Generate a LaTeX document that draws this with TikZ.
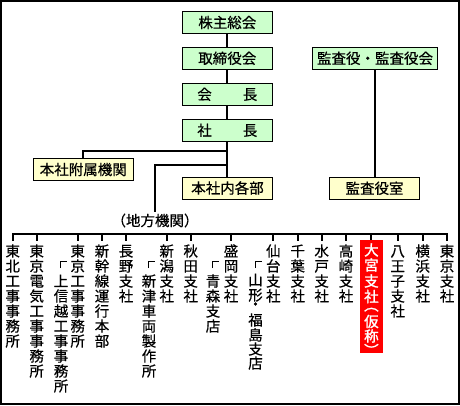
\documentclass[tikz,border=0pt]{standalone}
\usepackage{fontspec}
\newfontfamily\jp{Noto Sans CJK JP}[FakeBold=0.5]
\newfontfamily\jpb{Noto Sans CJK JP}[FakeBold=1.4]
\definecolor{lgreen}{RGB}{204,255,204}
\definecolor{lyellow}{RGB}{255,255,204}
\definecolor{hired}{RGB}{255,0,0}
\newcommand\vtext[5]{%
  \foreach \c [count=\i] in {#5} {\node[ch] (#1\i) at (#2,{#3+(\i-1)*#4}) {\c};}}
\begin{document}
\begin{tikzpicture}[x=1pt,y=-1pt,
  gbox/.style={draw=black, line width=1pt, fill=lgreen, minimum width=90pt, minimum height=22pt, inner sep=0pt, font=\jp\fontsize{14.5}{15}\selectfont},
  ybox/.style={gbox, fill=lyellow},
  lbl/.style={inner sep=0pt, font=\jp\fontsize{14.5}{15}\selectfont},
  ch/.style={inner sep=0pt, text height=11pt, text depth=0pt, font=\jp\fontsize{14.5}{15}\selectfont},
  wch/.style={ch, text=white, font=\jpb\fontsize{14.5}{15}\selectfont},
  par/.style={inner sep=0pt, anchor=base, text height=3pt, text depth=0pt, text=white, font=\jpb\fontsize{14.5}{15}\selectfont},
  conn/.style={draw=black, line width=2pt},
  brk/.style={draw=black, line width=1.5pt}]
\useasboundingbox (0,0) rectangle (460,405);
\draw[line width=2pt] (1,1) rectangle (459,404);

% boxes
\node[gbox] (kabu) at (227.3,22.5) {株主総会};
\node[gbox] (tori) at (227.3,58.3) {取締役会};
\node[gbox] (kaicho) at (227.3,94.3) {\makebox[60pt][s]{会\hfill 長}};
\node[gbox] (shacho) at (227.3,130.3) {\makebox[60pt][s]{社\hfill 長}};
\node[gbox, minimum width=125.4pt] (kansa) at (375,58.3) {監査役・監査役会};
\node[ybox, minimum width=100pt, minimum height=22.4pt] (fuzoku) at (83.3,169.5) {本社附属機関};
\node[ybox] (naibu) at (227.5,188) {本社内各部};
\node[ybox] (kansashitsu) at (374.5,188.3) {監査役室};
\node[lbl] (chiho) at (155,220.5) {（地方機関）};

% trunk connectors
\draw[conn] (kabu) -- (tori);
\draw[conn] (tori) -- (kaicho);
\draw[conn] (kaicho) -- (shacho);
\draw[conn] (shacho.south) -- (shacho.south |- naibu.north);
\coordinate (j1) at (227.3,151);
\coordinate (j2) at (227.3,165);
\coordinate (chtop) at (155,211.5);
\draw[conn] (j1) -| (fuzoku.north);
\draw[conn] (j2) -| (chtop);
\draw[conn] (kansa.south) -- (kansa.south |- kansashitsu.north);

% red box
\node[fill=hired, minimum width=22.7pt, minimum height=112.7pt, inner sep=0pt] (omiya) at (371.4,296.3) {};

% bus and ticks
\foreach \k/\x in {1/12.7, 2/36.7, 4/77.7, 5/102, 6/126, 8/166.7, 9/190.7, 11/231, 13/273.3, 14/297.7, 15/321.7, 16/346, 18/397.7, 19/422.7, 20/447}{
  \coordinate (t\k) at (\x,234.3);
  \coordinate (e\k) at (\x,241);
}
\coordinate (t17) at (371.4,234.3);
\draw[conn, line join=miter] (e1) -- (t1) -- (t20) -- (e20);
\foreach \k in {2,4,5,6,8,9,11,13,14,15,16,18,19}{\draw[conn] (t\k) -- (e\k);}
\draw[conn] (t17) -- (omiya.north);

% brackets for sub offices
\foreach \x in {61,149,213,256}{
  \draw[brk] (\x-0.5,268) -- (\x-0.5,261.5) -- (\x+6,261.5);
}

% columns
\vtext{a}{12.7}{251}{15}{東,北,工,事,事,務,所}
\vtext{b}{36.7}{251}{15}{東,京,電,気,工,事,事,務,所}
\vtext{c}{61}{281}{15}{上,信,越,工,事,事,務,所}
\vtext{d}{77.7}{251}{15}{東,京,工,事,事,務,所}
\vtext{e}{102}{251}{15}{新,幹,線,運,行,本,部}
\vtext{f}{126}{251}{15}{長,野,支,社}
\vtext{g}{149}{281}{15}{新,津,車,両,製,作,所}
\vtext{h}{166.7}{251}{15}{新,潟,支,社}
\vtext{i}{190.7}{251}{15}{秋,田,支,社}
\vtext{j}{213}{281}{15}{青,森,支,店}
\vtext{k}{231}{251}{15}{盛,岡,支,社}
\foreach \y/\c [count=\i] in {280/山,295/形,320/福,335/島,349/支,363/店}{\node[ch] (l\i) at (255.5,\y) {\c};}
\node[inner sep=0pt, text height=4pt, text depth=0pt, font=\jp\fontsize{14.5}{15}\selectfont] (ldot) at (255.5,307.5) {・};
\vtext{m}{273.3}{251}{15}{仙,台,支,社}
\vtext{n}{297.7}{251}{15}{千,葉,支,社}
\vtext{o}{321.7}{251}{15}{水,戸,支,社}
\vtext{p}{346}{251}{15}{高,崎,支,社}
\foreach \y/\c [count=\i] in {250/大,265/宮,281/支,296.5/社,321.5/仮,336/称}{\node[wch] (q\i) at (371.4,\y) {\c};}
\node[par] (qo) at (371.4,310.5) {︵};
\node[par] (qc) at (371.4,356) {︶};
\vtext{r}{397.7}{251}{15}{八,王,子,支,社}
\vtext{s}{422.7}{251}{15}{横,浜,支,社}
\vtext{u}{447}{251}{15}{東,京,支,社}
\end{tikzpicture}
\end{document}
